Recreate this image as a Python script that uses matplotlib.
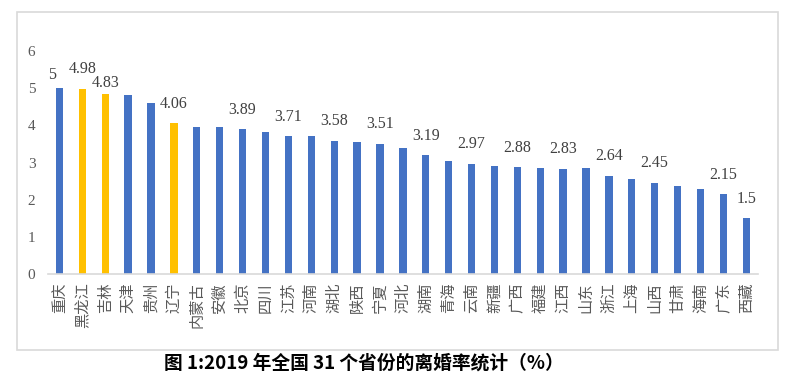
import matplotlib
matplotlib.use("Agg")
import matplotlib.pyplot as plt
from matplotlib.patches import Rectangle

provinces = ["重庆", "黑龙江", "吉林", "天津", "贵州", "辽宁", "内蒙古", "安徽", "北京", "四川",
             "江苏", "河南", "湖北", "陕西", "宁夏", "河北", "湖南", "青海", "云南", "新疆",
             "广西", "福建", "江西", "山东", "浙江", "上海", "山西", "甘肃", "海南", "广东", "西藏"]
rates = [5.00, 4.98, 4.83, 4.81, 4.59, 4.06, 3.95, 3.95, 3.89, 3.81,
         3.71, 3.70, 3.58, 3.55, 3.51, 3.38, 3.19, 3.03, 2.97, 2.91,
         2.88, 2.85, 2.83, 2.84, 2.64, 2.56, 2.45, 2.37, 2.29, 2.15, 1.50]
highlight = ["黑龙江", "吉林", "辽宁"]
labeled = ["重庆", "黑龙江", "吉林", "辽宁", "北京", "江苏", "湖北", "宁夏", "湖南", "云南",
           "广西", "江西", "浙江", "山西", "广东", "西藏"]
yticks = [0, 1, 2, 3, 4, 5, 6]
title = "图 1:2019 年全国 31 个省份的离婚率统计（%）"

cjk = ["Noto Sans CJK SC", "DejaVu Sans"]
serif = ["Liberation Serif", "DejaVu Serif"]

fig = plt.figure(figsize=(7.98, 3.92), dpi=100)
fig.patch.set_facecolor("white")
# outer chart frame
fig.add_artist(Rectangle((17 / 798, 42 / 392), 761 / 798, 338 / 392,
                         transform=fig.transFigure, fill=False,
                         edgecolor="#D9D9D9", linewidth=1.2))

ax = fig.add_axes([48 / 798, 118 / 392, 709.7 / 798, 223 / 392])
x = list(range(len(provinces)))
colors = ["#FFC000" if p in highlight else "#4472C4" for p in provinces]
ax.bar(x, rates, width=0.32, color=colors, zorder=2)

ax.set_xlim(-0.5, len(provinces) - 0.5)
ax.set_ylim(0, 6)
ax.set_yticks(yticks)
ax.set_yticklabels([str(t) for t in yticks], fontfamily=serif, fontsize=11, color="#595959")
ax.tick_params(axis="y", length=0, pad=9)
ax.set_xticks(x)
ax.set_xticklabels(provinces, rotation=90, fontfamily=cjk, fontsize=11, color="#595959",
                   va="top", ha="center")
ax.tick_params(axis="x", length=0, pad=6)
for s in ["top", "right", "left"]:
    ax.spines[s].set_visible(False)
ax.spines["bottom"].set_color("#D9D9D9")
ax.spines["bottom"].set_linewidth(1.2)

offsets = {"重庆": (-5, 9.5), "吉林": (0, 8.5)}
for i, (p, v) in enumerate(zip(provinces, rates)):
    if p in labeled:
        dx, dy = offsets.get(p, (0, 14))
        txt = f"{v:g}"
        ax.annotate(txt, xy=(i, v), xytext=(dx, dy), textcoords="offset points",
                    ha="center", va="center", fontfamily=serif, fontsize=11.5,
                    color="#404040", annotation_clip=False)

fig.text(364 / 798, 1 - 363 / 392, title, ha="center", va="center",
         fontfamily=cjk, fontsize=13.5, fontweight="bold", color="black")

fig.savefig("out.png", dpi=100, facecolor="white")
